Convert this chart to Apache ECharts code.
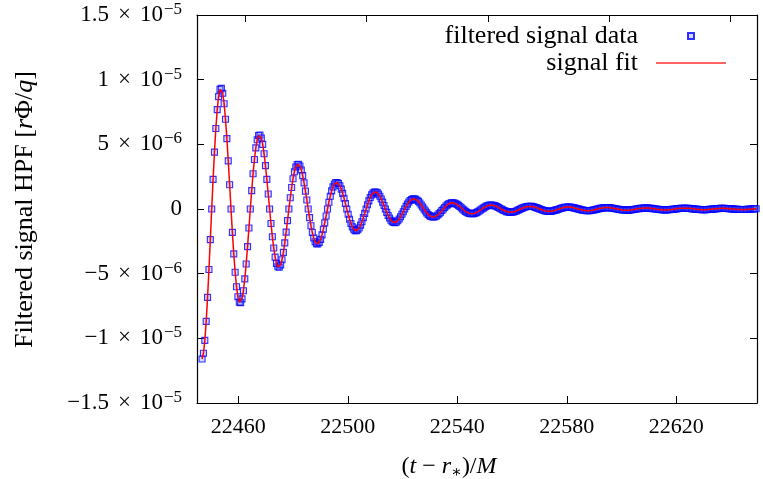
<!DOCTYPE html>
<html>
<head>
<meta charset="utf-8">
<script src="https://cdn.jsdelivr.net/npm/echarts@6/dist/echarts.min.js"></script>
<style>
  html, body { margin: 0; padding: 0; background: #fff; }
  #chart { width: 763px; height: 479px; }
</style>
</head>
<body>
<div id="chart"></div>
<script>
// sampling of the filtered signal: first sample time and cadence, in M
const sampleStart = 22446.75
const sampleStep = 0.5036
// filtered signal HPF, in units of 1e-6 r Phi/q (one row per half cycle)
const filteredSignal = [
  -11.60, -11.15, -10.16, -8.69, -6.83, -4.68, -2.37, 0, 2.29, 4.40, 6.22, 7.68, 8.69, 9.25,
  9.33, 8.95, 8.14, 6.94, 5.44, 3.72, 1.88, 0, -1.81, -3.47, -4.89, -6.01, -6.79, -7.20,
  -7.24, -6.95, -6.32, -5.40, -4.25, -2.91, -1.47, 0, 1.42, 2.72, 3.83, 4.73, 5.35, 5.68,
  5.72, 5.49, 5.00, 4.27, 3.35, 2.29, 1.16, 0, -1.12, -2.14, -3.02, -3.72, -4.21, -4.47,
  -4.50, -4.32, -3.92, -3.35, -2.62, -1.79, -0.90, 0, 0.87, 1.66, 2.34, 2.88, 3.25, 3.44,
  3.46, 3.32, 3.02, 2.58, 2.02, 1.38, 0.70, 0, -0.67, -1.29, -1.82, -2.24, -2.53, -2.68,
  -2.70, -2.58, -2.35, -2.00, -1.56, -1.07, -0.54, 0, 0.52, 0.99, 1.40, 1.71, 1.93, 2.05,
  2.05, 1.97, 1.80, 1.54, 1.21, 0.83, 0.42, 0, -0.41, -0.79, -1.12, -1.38, -1.56, -1.67,
  -1.68, -1.61, -1.47, -1.25, -0.99, -0.67, -0.34, 0, 0.33, 0.63, 0.89, 1.09, 1.23, 1.32,
  1.32, 1.27, 1.15, 0.99, 0.77, 0.53, 0.27, 0, -0.26, -0.50, -0.70, -0.87, -0.98, -1.04,
  -1.05, -1.00, -0.91, -0.77, -0.60, -0.41, -0.21, 0, 0.20, 0.38, 0.54, 0.66, 0.74, 0.78,
  0.78, 0.75, 0.68, 0.59, 0.46, 0.31, 0.16, 0, -0.15, -0.30, -0.42, -0.51, -0.58, -0.61,
  -0.62, -0.59, -0.54, -0.46, -0.36, -0.25, -0.12, 0, 0.12, 0.23, 0.32, 0.40, 0.45, 0.48,
  0.48, 0.46, 0.41, 0.36, 0.28, 0.19, 0.10, 0, -0.09, -0.18, -0.25, -0.30, -0.35, -0.37,
  -0.37, -0.36, -0.32, -0.28, -0.22, -0.15, -0.08, 0, 0.07, 0.14, 0.20, 0.25, 0.28, 0.30,
  0.30, 0.29, 0.26, 0.23, 0.18, 0.12, 0.06, 0, -0.06, -0.12, -0.16, -0.20, -0.23, -0.24,
  -0.25, -0.24, -0.22, -0.19, -0.15, -0.10, -0.05, 0, 0.05, 0.10, 0.14, 0.17, 0.19, 0.20,
  0.21, 0.20, 0.19, 0.16, 0.12, 0.09, 0.04, 0, -0.04, -0.08, -0.12, -0.15, -0.16, -0.18,
  -0.18, -0.18, -0.16, -0.13, -0.11, -0.07, -0.04, 0, 0.04, 0.07, 0.10, 0.13, 0.14, 0.15,
  0.15, 0.15, 0.13, 0.11, 0.09, 0.06, 0.03, 0, -0.03, -0.06, -0.09, -0.10, -0.12, -0.13,
  -0.13, -0.13, -0.12, -0.10, -0.08, -0.05, -0.03, 0, 0.03, 0.05, 0.07, 0.09, 0.10, 0.11,
  0.11, 0.11, 0.10, 0.08, 0.06, 0.04, 0.02, 0, -0.02, -0.04, -0.06, -0.07, -0.08, -0.09,
  -0.09, -0.09, -0.08, -0.07, -0.05, -0.04, -0.02, 0, 0.02, 0.03, 0.05, 0.06, 0.07, 0.08,
  0.08, 0.08, 0.07, 0.06, 0.05, 0.03, 0.02, 0, -0.02, -0.03, -0.04, -0.05, -0.06, -0.07,
  -0.07, -0.07, -0.06, -0.05, -0.04, -0.03, -0.02, 0, 0.01, 0.03, 0.04, 0.05, 0.05, 0.06,
  0.06, 0.06, 0.05, 0.05, 0.04, 0.03, 0.01, 0, -0.01, -0.02, -0.03, -0.04, -0.05, -0.05,
  -0.05, -0.05, -0.05, -0.04, -0.03, -0.02, -0.01, 0, 0.01, 0.02, 0.03, 0.04, 0.05, 0.05,
  0.05, 0.05, 0.04, 0.04, 0.03, 0.02, 0.01, 0, -0.01, -0.02, -0.03, -0.03, -0.04, -0.04,
  -0.04, -0.04, -0.04, -0.03, -0.02, -0.02, -0.01, 0, 0.01, 0.02, 0.02
]
// the fit lies on top of the data at this scale
const signalFit = filteredSignal

const xTickValues = [22460, 22500, 22540, 22580, 22620]
const x2TickValues = [22462.6, 22506.9, 22551.2, 22595.4, 22639.9]
const yTickValues = [-1.5e-5, -1e-5, -5e-6, 0, 5e-6, 1e-5, 1.5e-5]
const yTickMantissa = ['−1.5', '−1', '−5', '0', '5', '1', '1.5']
const yTickExponent = ['−5', '−5', '−6', '', '−6', '−5', '−5']
const seriesNames = ['filtered signal data', 'signal fit']

const serif = '"Liberation Serif", "DejaVu Serif", serif'
const xMin = 22444.9, xMax = 22649.5

const toPoints = arr => arr.map((v, i) => [sampleStart + i * sampleStep, v * 1e-6])

const yLabel = v => {
  const i = yTickValues.findIndex(t => Math.abs(t - v) < 1e-10)
  if (i < 0) return ''
  if (!yTickExponent[i]) return '{m|' + yTickMantissa[i] + '}'
  return '{m|' + yTickMantissa[i] + '}{x|×}{m|10}{s|' + yTickExponent[i] + '}'
}

const tickStyle = { show: true, inside: true, length: 7, lineStyle: { color: '#000', width: 1 } }
const lineStyle = { show: true, onZero: false, lineStyle: { color: '#000', width: 1.2 } }
const legendText = (gap) => ({
  rich: {
    t: { fontFamily: serif, fontSize: 26, color: '#000', lineHeight: 28 },
    g: { width: gap }
  }
})

const opt = {
  animation: false,
  backgroundColor: '#fff',
  grid: { left: 197, right: 6, top: 15, bottom: 76 },
  legend: [
    {
      data: [seriesNames[0]], right: 63, top: 18, orient: 'horizontal', align: 'right',
      itemWidth: 6, itemHeight: 6, padding: 5,
      formatter: n => '{t|' + n + '}{g|}',
      textStyle: legendText(45)
    },
    {
      data: [{ name: seriesNames[1], icon: 'rect' }], right: 32, top: 45, orient: 'horizontal', align: 'right',
      itemWidth: 70, itemHeight: 1.6, padding: 5,
      formatter: n => '{t|' + n + '}{g|}',
      textStyle: legendText(13)
    }
  ],
  xAxis: [
    {
      type: 'value', position: 'bottom', min: xMin, max: xMax,
      axisLine: lineStyle, splitLine: { show: false },
      axisTick: { ...tickStyle, customValues: xTickValues },
      axisLabel: {
        customValues: xTickValues, margin: 13, color: '#000',
        fontFamily: serif, fontSize: 22, formatter: v => String(v)
      }
    },
    {
      type: 'value', position: 'top', min: xMin, max: xMax,
      axisLine: lineStyle, splitLine: { show: false },
      axisTick: { ...tickStyle, customValues: x2TickValues },
      axisLabel: { show: false }
    }
  ],
  yAxis: [
    {
      type: 'value', position: 'left', min: -1.5e-5, max: 1.5e-5, interval: 5e-6,
      axisLine: lineStyle, splitLine: { show: false }, axisTick: tickStyle,
      axisLabel: {
        margin: 15, color: '#000', formatter: yLabel,
        rich: {
          m: { fontFamily: serif, fontSize: 23, color: '#000', lineHeight: 28 },
          x: { fontFamily: serif, fontSize: 23, color: '#000', lineHeight: 28, padding: [0, 9, 0, 9] },
          s: { fontFamily: serif, fontSize: 17, color: '#000', lineHeight: 17, verticalAlign: 'top', padding: [0, 0, 0, 1] }
        }
      }
    },
    {
      type: 'value', position: 'right', min: -1.5e-5, max: 1.5e-5, interval: 5e-6,
      axisLine: lineStyle, splitLine: { show: false }, axisTick: tickStyle,
      axisLabel: { show: false }
    }
  ],
  series: [
    {
      name: seriesNames[0],
      type: 'scatter',
      symbol: 'rect',
      symbolSize: 6,
      itemStyle: { color: 'rgba(110,110,255,0.35)', borderColor: '#0000ff', borderWidth: 1.1 },
      data: toPoints(filteredSignal),
      z: 2
    },
    {
      name: seriesNames[1],
      type: 'line',
      symbol: 'none',
      lineStyle: { color: '#ff0000', width: 1.5 },
      itemStyle: { color: '#ff3030' },
      data: toPoints(signalFit),
      z: 3
    }
  ],
  graphic: [
    {
      type: 'text', x: 449, y: 467,
      style: {
        text: '{n|(}{i|t}{n| − }{i|r}{s|∗}{n|)/}{i|M}',
        align: 'center', verticalAlign: 'middle',
        rich: {
          n: { fontFamily: serif, fontSize: 24, fill: '#000', lineHeight: 28 },
          i: { fontFamily: serif, fontSize: 24, fontStyle: 'italic', fill: '#000', lineHeight: 28 },
          s: { fontFamily: serif, fontSize: 16, fill: '#000', lineHeight: 28, verticalAlign: 'bottom' }
        }
      }
    },
    {
      type: 'text', x: 25, y: 209.5, rotation: Math.PI / 2,
      style: {
        text: '{n|Filtered signal HPF [}{i|r}{n|Φ/}{i|q}{n|]}',
        align: 'center', verticalAlign: 'middle',
        rich: {
          n: { fontFamily: serif, fontSize: 26, fill: '#000', lineHeight: 28 },
          i: { fontFamily: serif, fontSize: 26, fontStyle: 'italic', fill: '#000', lineHeight: 28 }
        }
      }
    }
  ]
}

const chart = echarts.init(document.getElementById('chart'), null, { renderer: 'canvas' })
chart.setOption(opt)
</script>
</body>
</html>
